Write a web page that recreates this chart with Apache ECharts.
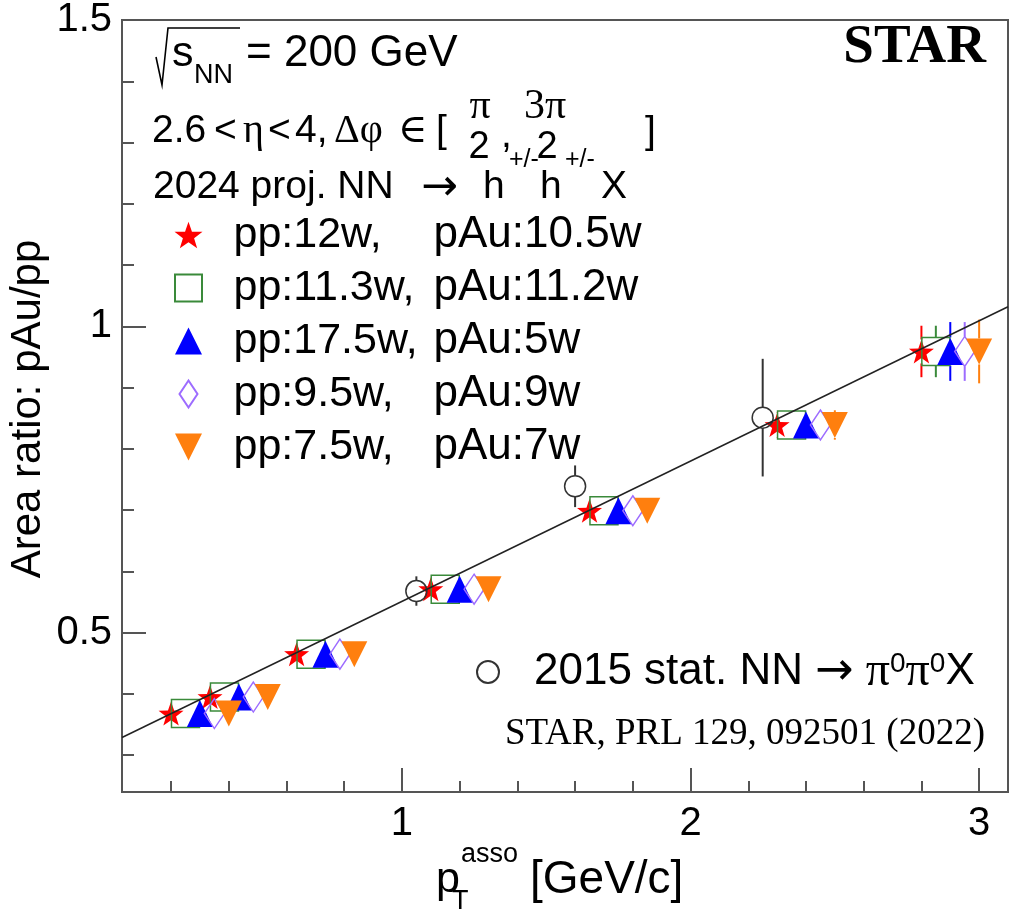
<!DOCTYPE html>
<html>
<head>
<meta charset="utf-8">
<script src="https://cdn.jsdelivr.net/npm/echarts@6/dist/echarts.min.js"></script>
<style>
  html, body { margin: 0; padding: 0; background: #fff; }
  #main { width: 1010px; height: 914px; }
</style>
</head>
<body>
<div id="main"></div>
<script>
// ---- data ----
// 2024 projections, each set shifted by 0.05 in pT so they do not overlap
const ppLabels  = ['pp:12w,', 'pp:11.3w,', 'pp:17.5w,', 'pp:9.5w,', 'pp:7.5w,'];
const pAuLabels = ['pAu:10.5w', 'pAu:11.2w', 'pAu:5w', 'pAu:9w', 'pAu:7w'];

const starX = [0.2, 0.335, 0.635, 1.1, 1.65, 2.3, 2.8];
const starY = [0.368, 0.395, 0.465, 0.571, 0.699, 0.839, 0.959];
const starErr = [0.006, 0.007, 0.008, 0.01, 0.013, 0.02, 0.042];

const squareX = [0.25, 0.385, 0.685, 1.15, 1.7, 2.35, 2.85];
const squareY = [0.368, 0.395, 0.465, 0.571, 0.699, 0.839, 0.959];
const squareErr = [0.006, 0.007, 0.008, 0.01, 0.013, 0.02, 0.042];

const triX = [0.3, 0.435, 0.735, 1.2, 1.75, 2.4, 2.9];
const triY = [0.368, 0.395, 0.465, 0.571, 0.699, 0.839, 0.959];
const triErr = [0.007, 0.008, 0.009, 0.011, 0.015, 0.022, 0.048];

const diaX = [0.35, 0.485, 0.785, 1.25, 1.8, 2.45, 2.95];
const diaY = [0.368, 0.395, 0.465, 0.571, 0.699, 0.839, 0.959];
const diaErr = [0.007, 0.008, 0.009, 0.011, 0.015, 0.022, 0.048];

const invX = [0.4, 0.535, 0.835, 1.3, 1.85, 2.5, 3.0];
const invY = [0.368, 0.395, 0.465, 0.571, 0.699, 0.839, 0.959];
const invErr = [0.008, 0.009, 0.01, 0.012, 0.016, 0.024, 0.052];

// 2015 measurement (stat. errors)
const run15Name = '2015 stat. NN → π0π0X';
const run15X = [1.05, 1.6, 2.25];
const run15Y = [0.568, 0.739, 0.851];
const run15Err = [0.024, 0.034, 0.096];

// straight line fit
const fitX = [0.03, 3.1];
const fitY = [0.329, 1.032];

// axes
const xMin = 0.03, xMax = 3.1;
const yMin = 0.24, yMax = 1.5;
const xTicks = [1, 2, 3];
const xMinor = [0.2, 0.4, 0.6, 0.8, 1.2, 1.4, 1.6, 1.8, 2.2, 2.4, 2.6, 2.8];
const yTicks = [0.5, 1, 1.5];
const yMinor = [0.3, 0.4, 0.6, 0.7, 0.8, 0.9, 1.1, 1.2, 1.3, 1.4];

// ---- styling ----
const SANS = "'Liberation Sans', Arial, Helvetica, sans-serif";
const SERIF = "'Liberation Serif', 'Times New Roman', 'DejaVu Serif', serif";
const ARROW = "'DejaVu Sans', sans-serif";
const AXIS = '#555';

function starPath() {
  const pts = [];
  for (let i = 0; i < 10; i++) {
    const r = i % 2 === 0 ? 50 : 20;
    const a = -Math.PI / 2 + i * Math.PI / 5;
    pts.push((50 + r * Math.cos(a)).toFixed(2) + ',' + (50 + r * Math.sin(a)).toFixed(2));
  }
  return 'path://M' + pts.join(' L') + ' Z';
}

// gap = half marker height in px, error bars are not drawn inside the marker
const sets = [
  { x: starX, y: starY, e: starErr, color: '#ff0000', symbol: starPath(), size: [25, 24], hollow: false, gap: 12 },
  { x: squareX, y: squareY, e: squareErr, color: '#3a8a3a', symbol: 'path://M0,0 L20,0 L20,20 L0,20 Z', size: [28, 28], hollow: true, gap: 14 },
  { x: triX, y: triY, e: triErr, color: '#0000ff', symbol: 'path://M10,0 L20,20 L0,20 Z', size: [26, 27], hollow: false, gap: 14 },
  { x: diaX, y: diaY, e: diaErr, color: '#9d6cff', symbol: 'path://M10,0 L20,15 L10,30 L0,15 Z', size: [20, 30], hollow: true, gap: 15 },
  { x: invX, y: invY, e: invErr, color: '#ff7f0e', symbol: 'path://M0,0 L20,0 L10,20 Z', size: [26, 26], hollow: false, gap: 13 }
];
const names = ppLabels.map((p, i) => p + ' ' + pAuLabels[i]);

function errSeries(xs, ys, es, color, gap) {
  return {
    type: 'custom',
    silent: true,
    z: 2,
    data: xs.map((x, i) => [x, ys[i], es[i]]),
    encode: { x: 0, y: 1 },
    renderItem: function (params, api) {
      const x = api.value(0), y = api.value(1), e = api.value(2);
      const c = api.coord([x, y]);
      const top = api.coord([x, y + e])[1];
      const bot = api.coord([x, y - e])[1];
      const kids = [];
      const st = { stroke: color, lineWidth: 2 };
      if (c[1] - top > gap) kids.push({ type: 'line', shape: { x1: c[0], y1: top, x2: c[0], y2: c[1] - gap }, style: st });
      if (bot - c[1] > gap) kids.push({ type: 'line', shape: { x1: c[0], y1: c[1] + gap, x2: c[0], y2: bot }, style: st });
      return { type: 'group', children: kids };
    }
  };
}

const series = [];
sets.forEach(function (s, i) {
  series.push(errSeries(s.x, s.y, s.e, s.color, s.gap));
  series.push({
    name: names[i],
    type: 'scatter',
    silent: true,
    z: 3,
    symbol: s.symbol,
    symbolSize: s.size,
    data: s.x.map((x, k) => [x, s.y[k]]),
    itemStyle: s.hollow
      ? { color: 'rgba(0,0,0,0)', borderColor: s.color, borderWidth: 1.5, opacity: 1 }
      : { color: s.color, opacity: 1 }
  });
});
series.push(errSeries(run15X, run15Y, run15Err, '#333', 10.5));
series.push({
  name: run15Name,
  type: 'scatter',
  silent: true,
  z: 3,
  symbol: 'circle',
  symbolSize: 21,
  data: run15X.map((x, k) => [x, run15Y[k]]),
  itemStyle: { color: 'rgba(0,0,0,0)', borderColor: '#333', borderWidth: 1.5, opacity: 1 }
});
series.push({
  type: 'line',
  silent: true,
  z: 4,
  showSymbol: false,
  data: fitX.map((x, k) => [x, fitY[k]]),
  lineStyle: { color: '#222', width: 1.5 }
});

// free text helper (graphic component)
function T(x, y, text, size, opt) {
  opt = opt || {};
  const align = opt.align || 'left';
  return {
    type: 'text',
    x: x, y: y,
    rotation: opt.rotation || 0,
    silent: true,
    style: {
      text: text,
      fill: '#000',
      fontSize: size,
      fontFamily: opt.family || SANS,
      fontWeight: opt.weight || 'normal',
      align: align, textAlign: align,
      verticalAlign: 'middle', textVerticalAlign: 'middle'
    }
  };
}

const graphics = [
  // line 1 : sqrt(s_NN) = 200 GeV
  { type: 'polyline', silent: true, shape: { points: [[156, 57], [162, 85], [168, 28], [240, 28]] },
    style: { stroke: '#000', lineWidth: 1.6, fill: 'none' } },
  T(172, 54, 's', 43),
  T(194, 76, 'NN', 27),
  T(246, 54, '= 200 GeV', 44),
  // line 2
  T(152, 131, '2.6', 39),
  T(214, 131, '<', 39),
  T(243, 131, 'η', 40, { family: SERIF }),
  T(268, 131, '<', 39),
  T(295, 131, '4,', 39),
  T(334, 131, 'Δφ', 40, { family: SERIF }),
  T(398, 131, '∈', 40, { family: SERIF }),
  T(436, 131, '[', 39),
  T(480, 107, 'π', 42, { family: SERIF, align: 'center' }),
  T(479, 148, '2', 38, { align: 'center' }),
  T(501, 136, ',', 39),
  T(545, 107, '3π', 42, { family: SERIF, align: 'center' }),
  T(547, 148, '2', 38, { align: 'center' }),
  T(645, 132, ']', 39),
  // line 3
  T(153, 187, '2024 proj. NN', 39),
  T(421, 189, '→', 44, { family: ARROW }),
  T(483, 187, 'h', 39),
  T(509, 160, '+/-', 25),
  T(540, 187, 'h', 39),
  T(565, 160, '+/-', 25),
  T(601, 187, 'X', 39),
  // experiment labels
  T(986, 48, 'STAR', 55, { family: SERIF, weight: 'bold', align: 'right' }),
  T(985, 734, 'STAR, PRL 129, 092501 (2022)', 37, { family: SERIF, align: 'right' }),
  // axis titles
  T(28, 409, 'Area ratio: pAu/pp', 42, { align: 'center', rotation: Math.PI / 2 }),
  T(436, 880, 'p', 43),
  T(461, 855, 'asso', 27),
  T(452, 902, 'T', 27),
  T(530, 880, '[GeV/c]', 46)
];

const chart = echarts.init(document.getElementById('main'));
chart.setOption({
  animation: false,
  backgroundColor: '#fff',
  grid: { left: 122, top: 18, right: 2, bottom: 122, show: true, borderColor: AXIS, borderWidth: 2, backgroundColor: 'transparent' },
  xAxis: [
    {
      type: 'value', min: xMin, max: xMax, position: 'bottom',
      axisLine: { show: true, lineStyle: { color: AXIS, width: 2 } },
      axisTick: { show: true, inside: true, length: 24, customValues: xTicks, lineStyle: { color: AXIS, width: 2 } },
      axisLabel: { show: true, customValues: xTicks, margin: 12, fontSize: 40, fontFamily: SANS, color: '#000' },
      splitLine: { show: false }
    },
    {
      type: 'value', min: xMin, max: xMax, position: 'bottom',
      axisLine: { show: false },
      axisTick: { show: true, inside: true, length: 11, customValues: xMinor, lineStyle: { color: AXIS, width: 2 } },
      axisLabel: { show: false },
      splitLine: { show: false }
    }
  ],
  yAxis: [
    {
      type: 'value', min: yMin, max: yMax, position: 'left',
      axisLine: { show: true, lineStyle: { color: AXIS, width: 2 } },
      axisTick: { show: true, inside: true, length: 24, customValues: yTicks, lineStyle: { color: AXIS, width: 2 } },
      axisLabel: { show: true, customValues: yTicks, margin: 10, fontSize: 40, fontFamily: SANS, color: '#000' },
      splitLine: { show: false }
    },
    {
      type: 'value', min: yMin, max: yMax, position: 'left',
      axisLine: { show: false },
      axisTick: { show: true, inside: true, length: 12, customValues: yMinor, lineStyle: { color: AXIS, width: 2 } },
      axisLabel: { show: false },
      splitLine: { show: false }
    }
  ],
  legend: [
    {
      data: names,
      orient: 'vertical',
      left: 174, top: 213,
      itemWidth: 28, itemHeight: 27, itemGap: 9,
      padding: 0,
      selectedMode: false,
      formatter: function (name) {
        const i = names.indexOf(name);
        return '{a|' + ppLabels[i] + '}{b|' + pAuLabels[i] + '}';
      },
      textStyle: {
        color: '#000', fontSize: 43, fontFamily: SANS, lineHeight: 40,
        rich: {
          a: { width: 200, fontSize: 43, fontFamily: SANS, lineHeight: 40, color: '#000', padding: [0, 0, 0, 26] },
          b: { fontSize: 44, fontFamily: SANS, lineHeight: 40, color: '#000' }
        }
      }
    },
    {
      data: [run15Name],
      left: 476, top: 648,
      itemWidth: 22, itemHeight: 22,
      padding: 0,
      selectedMode: false,
      formatter: function () {
        return '{f|2015 stat. NN }{r|→}{g| π}{s|0}{g|π}{s|0}{t|X}';
      },
      textStyle: {
        color: '#000', fontSize: 44, fontFamily: SANS, lineHeight: 44,
        rich: {
          f: { fontSize: 44, fontFamily: SANS, lineHeight: 44, color: '#000', padding: [0, 0, 0, 30] },
          t: { fontSize: 44, fontFamily: SANS, lineHeight: 44, color: '#000' },
          r: { fontSize: 46, fontFamily: ARROW, lineHeight: 44, color: '#000' },
          g: { fontSize: 48, fontFamily: SERIF, lineHeight: 44, color: '#000' },
          s: { fontSize: 28, fontFamily: SANS, lineHeight: 16, verticalAlign: 'top', color: '#000' }
        }
      }
    }
  ],
  graphic: { elements: graphics },
  series: series
});
</script>
</body>
</html>
